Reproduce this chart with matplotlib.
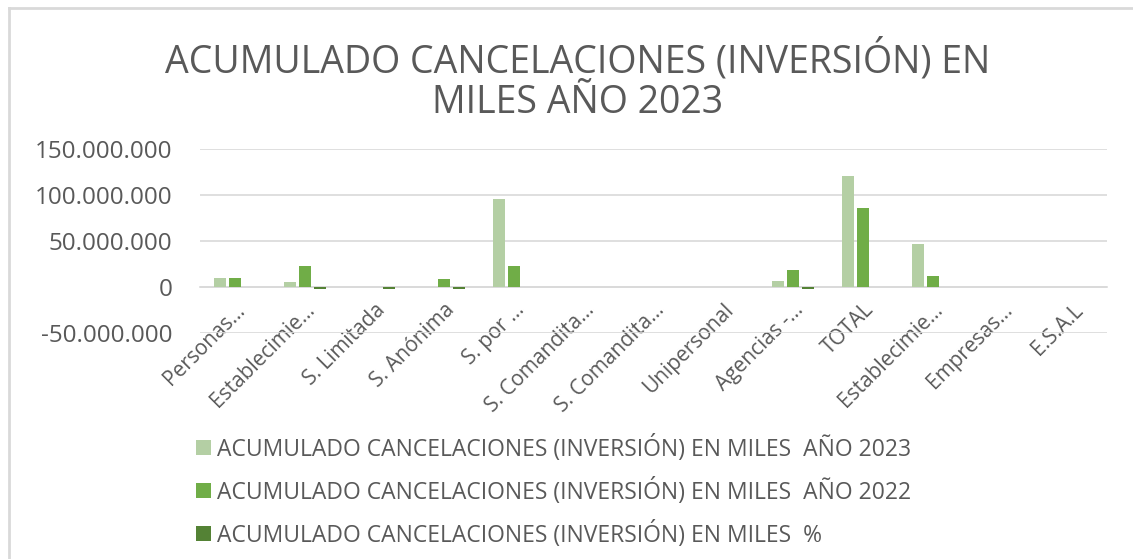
import matplotlib
matplotlib.use('Agg')
import matplotlib.pyplot as plt
from matplotlib.lines import Line2D
from matplotlib.transforms import ScaledTranslation
import numpy as np

plt.rcParams['font.family'] = ['Open Sans', 'DejaVu Sans']

categories = ["Personas…", "Establecimie…", "S. Limitada", "S. Anónima", "S. por …",
              "S. Comandita…", "S. Comandita…", "Unipersonal", "Agencias -…", "TOTAL",
              "Establecimie…", "Empresas…", "E.S.A.L"]
anio_2023 = [9.7e6, 5.8e6, 0, 0, 95.0e6, 0, 0, 0, 6.9e6, 120.6e6, 46.9e6, 0, 0]
anio_2022 = [10.1e6, 23.1e6, 0, 8.6e6, 23.1e6, 0, 0, 0, 18.0e6, 85.7e6, 12.3e6, 0, 0]
porcentaje = [0, -2.0e6, -2.0e6, -2.0e6, 0, 0, 0, 0, -2.0e6, 0, 0, 0, 0]
series_labels = ["ACUMULADO CANCELACIONES (INVERSIÓN) EN MILES  AÑO 2023",
                 "ACUMULADO CANCELACIONES (INVERSIÓN) EN MILES  AÑO 2022",
                 "ACUMULADO CANCELACIONES (INVERSIÓN) EN MILES  %"]
yticks = [-50e6, 0, 50e6, 100e6, 150e6]

colors = ['#B4CFA4', '#70AD47', '#548235']
txt = '#595959'
grid = '#D9D9D9'

fig = plt.figure(figsize=(11.33, 5.59), dpi=100)
ax = fig.add_axes([200/1133, 1 - 333/559, 907/1133, (333 - 148.7)/559])

x = np.arange(len(categories))
step, width = 0.215, 0.172
bars = []
for i, vals in enumerate([anio_2023, anio_2022, porcentaje]):
    bars.append(ax.bar(x + (i - 1) * step, vals, width, color=colors[i], zorder=3))

ax.set_xlim(-0.5, len(categories) - 0.5)
ax.set_ylim(-50e6, 150e6)
ax.set_yticks(yticks)
ax.set_yticklabels([f"{int(v):,}".replace(",", ".") for v in yticks])
ax.grid(axis='y', color=grid, linewidth=1.2, zorder=0)
for s in ['left', 'right', 'top']:
    ax.spines[s].set_visible(False)
ax.spines['bottom'].set_position(('data', 0))
ax.spines['bottom'].set_color(grid)
ax.spines['bottom'].set_linewidth(1.2)
ax.set_xticks(x)
ax.set_xticklabels(categories, rotation=45, ha='right', rotation_mode='anchor',
                   fontsize=15, color=txt)
shift = ScaledTranslation(10/100, 0, fig.dpi_scale_trans)
for lab in ax.get_xticklabels():
    lab.set_transform(lab.get_transform() + shift)
ax.tick_params(axis='x', length=0, pad=9)
ax.tick_params(axis='y', length=0, pad=20, labelsize=17.5, labelcolor=txt)

fig.text(578/1133, 1 - 72/559, "ACUMULADO CANCELACIONES (INVERSIÓN) EN",
         ha='center', va='baseline', fontsize=27, color=txt)
fig.text(578/1133, 1 - 113/559, "MILES AÑO 2023",
         ha='center', va='baseline', fontsize=27, color=txt)

fig.legend(bars, series_labels, loc='upper left', bbox_to_anchor=(175/1133, 1 - 414/559),
           frameon=False, fontsize=16.5, labelcolor=txt, handlelength=0.65,
           handleheight=0.65, handletextpad=0.3, labelspacing=0.7)

fig.add_artist(Line2D([9/1133, 9/1133], [0, 1 - 8/559], color=grid, linewidth=2))
fig.add_artist(Line2D([9/1133, 1], [1 - 8/559, 1 - 8/559], color=grid, linewidth=2))

plt.savefig('out.png', dpi=100)
plt.close()
